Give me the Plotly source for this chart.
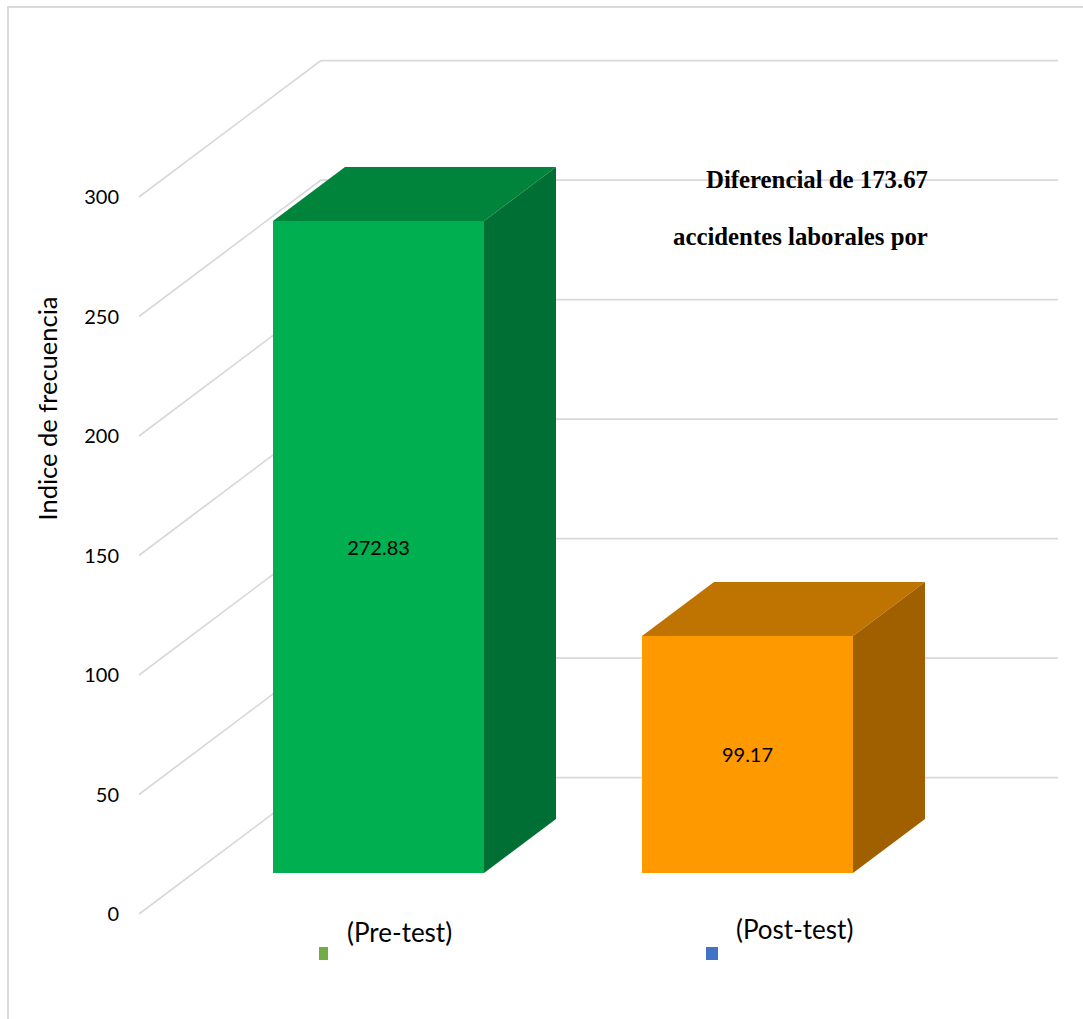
import plotly.graph_objects as go

# Chart data
categories = ["(Pre-test)", "(Post-test)"]
values = [272.83, 99.17]
value_labels = ["272.83", "99.17"]
y_ticks = [0, 50, 100, 150, 200, 250, 300]
axis_title = "Indice de frecuencia"
note_lines = ["Diferencial de 173.67", "accidentes laborales por"]

front_colors = ["#00B050", "#FF9900"]
top_colors = ["#00843C", "#BF7300"]
side_colors = ["#006F33", "#A06000"]
swatch_colors = ["#70AD47", "#4472C4"]

WIDTH, HEIGHT = 1083, 1019
LEFT = 125
PX_PER_X = 369.0      # pixels per category step
PX_PER_Y = 2.39       # pixels per index unit
X0_PX, Y0_PX = 378.5, 914.0  # position of category 0 / value 0 on the front plane


def to_x(px):
    return (px - X0_PX) / PX_PER_X


def to_y(py):
    return (Y0_PX - py) / PX_PER_Y


def to_paper_x(px):
    return (px - LEFT) / (WIDTH - LEFT)


def to_paper_y(py):
    return 1 - py / HEIGHT


# Oblique projection: depth offsets in axis units
BAR_WIDTH = 211 / PX_PER_X
BAR_BASE = 41 / PX_PER_Y
BAR_DX, BAR_DY = 72 / PX_PER_X, 54 / PX_PER_Y
WALL_DX, WALL_DY = 182 / PX_PER_X, 136.5 / PX_PER_Y
FLOOR_LEFT = to_x(139)
WALL_RIGHT = to_x(1058)
GRID = "#D9D9D9"

fig = go.Figure()

# Wall grid: diagonal on the side wall plus horizontal on the back wall
shapes = []
for t in y_ticks:
    shapes.append(dict(type="line", xref="x", yref="y", layer="below",
                       x0=FLOOR_LEFT, y0=t, x1=FLOOR_LEFT + WALL_DX, y1=t + WALL_DY,
                       line=dict(color=GRID, width=1.75)))
    shapes.append(dict(type="line", xref="x", yref="y", layer="below",
                       x0=FLOOR_LEFT + WALL_DX, y0=t + WALL_DY, x1=WALL_RIGHT, y1=t + WALL_DY,
                       line=dict(color=GRID, width=1.75)))

# Outer chart frame
shapes.append(dict(type="line", xref="paper", yref="paper", layer="below",
                   x0=to_paper_x(8), x1=to_paper_x(8), y0=to_paper_y(7), y1=to_paper_y(1019),
                   line=dict(color=GRID, width=2)))
shapes.append(dict(type="line", xref="paper", yref="paper", layer="below",
                   x0=to_paper_x(7), x1=1, y0=to_paper_y(7), y1=to_paper_y(7),
                   line=dict(color=GRID, width=2)))

# Category swatches under the bars
swatches = [(319, 328), (706, 718)]
for (a, b), c in zip(swatches, swatch_colors):
    shapes.append(dict(type="rect", xref="x", yref="y", layer="above",
                       x0=to_x(a), x1=to_x(b), y0=to_y(960), y1=to_y(947),
                       fillcolor=c, line=dict(width=0)))

# Front faces
positions = list(range(len(values)))
fig.add_trace(go.Bar(
    x=positions, y=values, base=[BAR_BASE] * len(values), width=BAR_WIDTH,
    marker=dict(color=front_colors, line=dict(width=0)),
    text=value_labels, textposition="inside", insidetextanchor="middle", textangle=0,
    insidetextfont=dict(family="Lato", size=20, color="#000000"),
    constraintext="none", showlegend=False, hoverinfo="skip",
))

# Top and side faces, derived from each bar's value
for pos, val, top_c, side_c in zip(positions, values, top_colors, side_colors):
    xl, xr = pos - BAR_WIDTH / 2, pos + BAR_WIDTH / 2
    yb, yt = BAR_BASE, BAR_BASE + val
    fig.add_trace(go.Scatter(
        x=[xl, xr, xr + BAR_DX, xl + BAR_DX, xl],
        y=[yt, yt, yt + BAR_DY, yt + BAR_DY, yt],
        mode="lines", fill="toself", fillcolor=top_c, line=dict(width=0),
        showlegend=False, hoverinfo="skip"))
    fig.add_trace(go.Scatter(
        x=[xr, xr + BAR_DX, xr + BAR_DX, xr, xr],
        y=[yb, yb + BAR_DY, yt + BAR_DY, yt, yb],
        mode="lines", fill="toself", fillcolor=side_c, line=dict(width=0),
        showlegend=False, hoverinfo="skip"))

annotations = [
    dict(text=axis_title, textangle=-90, xref="paper", yref="paper",
         x=to_paper_x(46.5), y=to_paper_y(409), xanchor="center", yanchor="middle",
         showarrow=False, font=dict(family="Lato", size=25.5, color="#000000")),
]
for text, cx, cy in zip(categories, [399.5, 794], [932, 929]):
    annotations.append(dict(text=text, xref="paper", yref="paper",
                            x=to_paper_x(cx), y=to_paper_y(cy),
                            xanchor="center", yanchor="middle", showarrow=False,
                            font=dict(family="Lato", size=26, color="#000000")))
for text, cy in zip(note_lines, [179, 237]):
    annotations.append(dict(text=f"<b>{text}</b>", xref="paper", yref="paper",
                            x=to_paper_x(930), y=to_paper_y(cy),
                            xanchor="right", yanchor="middle", showarrow=False,
                            font=dict(family="Liberation Serif", size=24.8, color="#000000")))

fig.update_layout(
    width=WIDTH, height=HEIGHT,
    margin=dict(l=LEFT, r=0, t=0, b=0),
    paper_bgcolor="#FFFFFF", plot_bgcolor="#FFFFFF",
    showlegend=False, barmode="overlay",
    shapes=shapes, annotations=annotations,
    xaxis=dict(range=[to_x(LEFT), to_x(WIDTH)], visible=False, fixedrange=True),
    yaxis=dict(range=[to_y(HEIGHT), to_y(0)], tickvals=y_ticks, showgrid=False,
               zeroline=False, showline=False, ticks="", fixedrange=True,
               ticklabelstandoff=5,
               tickfont=dict(family="Lato", size=20, color="#000000")),
)

fig.write_html("out.html")
